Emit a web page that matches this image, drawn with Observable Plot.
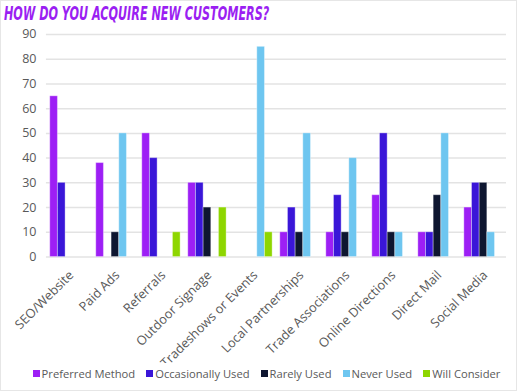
<!DOCTYPE html>
<html>
<head>
<meta charset="utf-8">
<script src="https://cdn.jsdelivr.net/npm/d3@7"></script>
<script src="https://cdn.jsdelivr.net/npm/@observablehq/plot@0.6"></script>
<style>
  html, body { margin: 0; padding: 0; background: #fff; }
  #wrap { position: relative; width: 515px; height: 389px; border: 1px solid #e6e6e6; overflow: hidden; background:#fff; }
  #title { position: absolute; left: 3px; top: 1px; font-family: "DejaVu Sans Condensed", "DejaVu Sans", sans-serif; font-weight: bold; font-style: italic; font-size: 19px; color: #9b1ff2; white-space: nowrap; transform: scaleX(0.655); transform-origin: 0 0; }
  #chart { position: absolute; left: -1px; top: 23px; }
  #legend { position: absolute; left: 8px; top: 365px; width: 515px; display: flex; justify-content: center; gap: 11px; font-family: "Open Sans", sans-serif; font-size: 11.2px; color: #595959; }
  .item { display: flex; align-items: center; gap: 2px; }
  .sw { width: 7px; height: 7px; display: inline-block; }
</style>
</head>
<body>
<div id="wrap">
  <div id="title">HOW DO YOU ACQUIRE NEW CUSTOMERS?</div>
  <div id="chart"></div>
  <div id="legend"></div>
</div>
<script>
const categories = ["SEO/Website", "Paid Ads", "Referrals", "Outdoor Signage", "Tradeshows or Events", "Local Partnerships", "Trade Associations", "Online Directions", "Direct Mail", "Social Media"];
const seriesNames = ["Preferred Method", "Occasionally Used", "Rarely Used", "Never Used", "Will Consider"];
const seriesColors = ["#9d1ff5", "#3a16d8", "#0e1630", "#6ec6f0", "#8ed600"];
const preferredMethod   = [65, 38, 50, 30, 0, 10, 10, 25, 10, 20];
const occasionallyUsed  = [30, 0, 40, 30, 0, 20, 25, 50, 10, 30];
const rarelyUsed        = [0, 10, 0, 20, 0, 10, 10, 10, 25, 30];
const neverUsed         = [0, 50, 0, 0, 85, 50, 40, 10, 50, 10];
const willConsider      = [0, 0, 10, 20, 10, 0, 0, 0, 0, 0];
const yTicks = [0, 10, 20, 30, 40, 50, 60, 70, 80, 90];

const seriesValues = [preferredMethod, occasionallyUsed, rarelyUsed, neverUsed, willConsider];
const data = [];
const xDomain = [];
categories.forEach((c, i) => {
  if (i > 0) xDomain.push(c + "|gap");
  seriesNames.forEach((s, j) => {
    const key = c + "|" + j;
    xDomain.push(key);
    data.push({key, category: c, series: s, value: seriesValues[j][i]});
  });
});
const tickKeys = categories.map(c => c + "|2");

const plot = Plot.plot({
  width: 517,
  height: 340,
  marginLeft: 46,
  marginRight: 10,
  marginTop: 10,
  marginBottom: 107,
  style: {fontFamily: "Open Sans, sans-serif", fontSize: "12px", color: "#595959", background: "transparent"},
  x: {domain: xDomain, paddingInner: 0, paddingOuter: 0.5, label: null},
  y: {domain: [0, 90], ticks: yTicks, label: null},
  color: {domain: seriesNames, range: seriesColors},
  marks: [
    Plot.gridY(yTicks, {stroke: "#e3e3e3", strokeOpacity: 1, strokeWidth: 1.5}),
    Plot.axisY(yTicks, {tickSize: 0, tickPadding: 10, fontSize: 12.5, fill: "#595959", label: null}),
    Plot.barY(data, {x: "key", y: "value", fill: "series", stroke: "#ffffff", strokeOpacity: 0.35, strokeWidth: 1}),
    Plot.axisX(tickKeys, {tickRotate: -45, tickSize: 0, tickPadding: 11, dx: 2, dy: 5, fontSize: 12.8, fill: "#595959", label: null, tickFormat: k => k.split("|")[0]})
  ]
});
document.getElementById("chart").appendChild(plot);

const legend = document.getElementById("legend");
seriesNames.forEach((s, j) => {
  const it = document.createElement("div");
  it.className = "item";
  const sw = document.createElement("span");
  sw.className = "sw";
  sw.style.background = seriesColors[j];
  const t = document.createElement("span");
  t.textContent = s;
  it.appendChild(sw); it.appendChild(t);
  legend.appendChild(it);
});
</script>
</body>
</html>
